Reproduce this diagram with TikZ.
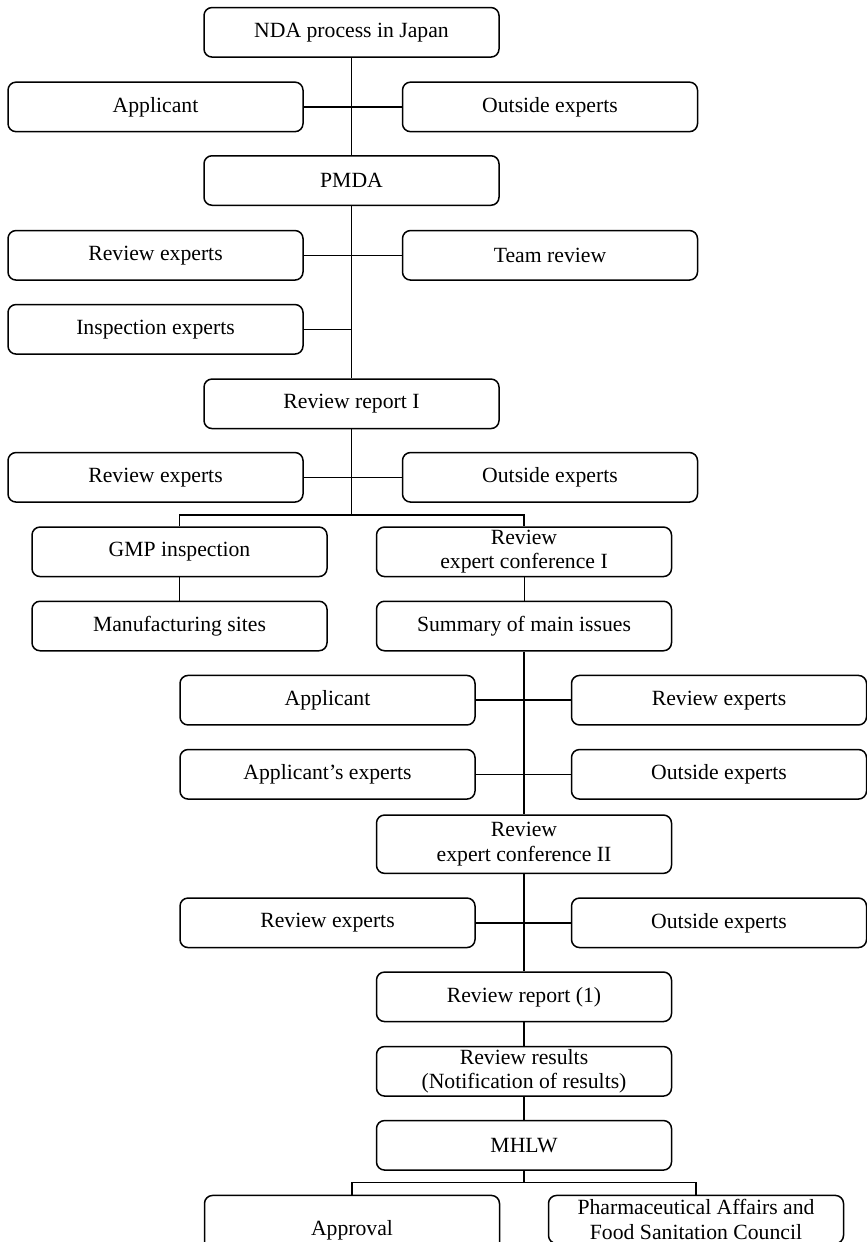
\documentclass[tikz,border=0pt]{standalone}
\usepackage{fontspec}
\setmainfont{Liberation Serif}
\begin{document}
\begin{tikzpicture}[x=1pt,y=-1pt,
  box/.style={draw, line width=1.5pt, rounded corners=8pt, minimum width=295pt,
    minimum height=49.5pt, inner sep=0pt, align=center,
    font=\fontsize{21.7}{24.5}\selectfont},
  link/.style={line width=1.5pt},
  thinlink/.style={line width=0.9pt}]
\useasboundingbox (0,0) rectangle (867,1242);
\clip (0,0) rectangle (867,1242);
% top section
\node[box] (nda) at (351.5,32.3) {NDA process in Japan};
\node[box] (app1) at (155.5,106.9) {Applicant};
\node[box] (out1) at (550,106.9) {Outside experts};
\node[box] (pmda) at (351.5,180.5) {PMDA};
\node[box] (rev1) at (155.5,255.3) {Review experts};
\node[box] (team) at (550,255.3) {Team review};
\node[box] (insp) at (155.5,329.3) {Inspection experts};
\node[box] (rr1) at (351.5,403.8) {Review report I};
\node[box] (rev2) at (155.5,477.3) {Review experts};
\node[box] (out2) at (550,477.3) {Outside experts};
% middle section
\node[box] (gmp) at (179.5,551.8) {GMP inspection};
\node[box] (rec1) at (524,551.8) {Review\\expert conference I};
\node[box] (mfg) at (179.5,626) {Manufacturing sites};
\node[box] (sum) at (524,626) {Summary of main issues};
\node[box] (app2) at (327.5,700.2) {Applicant};
\node[box] (rev3) at (719,700.2) {Review experts};
\node[box] (appx) at (327.5,774.3) {Applicant's experts};
\node[box] (out3) at (719,774.3) {Outside experts};
\node[box, minimum height=58.3pt] (rec2) at (524,844.2) {Review\\expert conference II};
\node[box] (rev4) at (327.5,922.8) {Review experts};
\node[box] (out4) at (719,922.8) {Outside experts};
\node[box] (rr2) at (524,996.8) {Review report (1)};
\node[box] (res) at (524,1071.3) {Review results\\(Notification of results)};
\node[box] (mhlw) at (524,1145.3) {MHLW};
\node[box, anchor=north, minimum height=70pt] (appr) at (352,1194.7) {Approval};
\node[box, anchor=north, minimum height=48pt] (pafsc) at (696,1194.7) {Pharmaceutical Affairs and\\Food Sanitation Council};
% connectors
\coordinate (b1) at (351.5,515);
\coordinate (b2) at (524,1182.7);
\draw[link] (nda.south) -- (pmda.north);
\draw[link] (app1.east) -- (out1.west);
\draw[link] (pmda.south) -- (rr1.north);
\draw[link] (rev1.east) -- (team.west);
\draw[link] (insp.east) -- (insp.east -| pmda.south);
\draw[link] (rr1.south) -- (b1);
\draw[link] (rev2.east) -- (out2.west);
\draw[link] (gmp.north) |- (b1) -| (rec1.north);
\draw[link] (gmp.south) -- (mfg.north);
\draw[thinlink] (rec1.south) -- (sum.north);
\draw[link] (sum.south) -- (rec2.north);
\draw[link] (app2.east) -- (rev3.west);
\draw[link] (appx.east) -- (out3.west);
\draw[link] (rec2.south) -- (rr2.north);
\draw[link] (rev4.east) -- (out4.west);
\draw[link] (rr2.south) -- (res.north);
\draw[link] (res.south) -- (mhlw.north);
\draw[link] (mhlw.south) -- (b2);
\draw[link] (appr.north) |- (b2) -| (pafsc.north);
\end{tikzpicture}
\end{document}
